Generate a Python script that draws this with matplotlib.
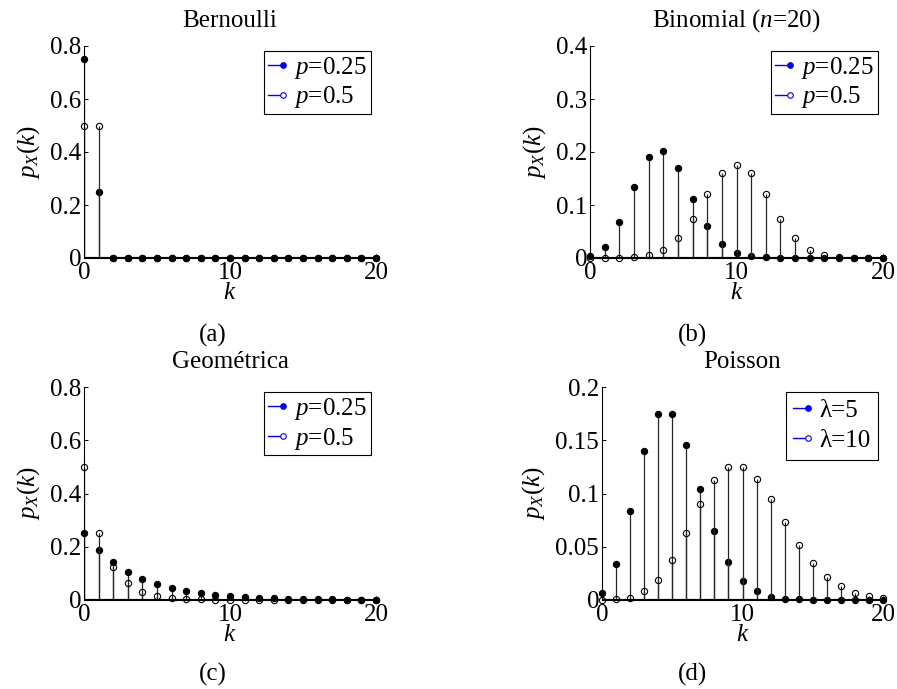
import matplotlib
matplotlib.use("Agg")
import matplotlib.pyplot as plt
from matplotlib.legend_handler import HandlerBase
from matplotlib.lines import Line2D
from matplotlib.ticker import FuncFormatter

plt.rcParams["font.family"] = ["Liberation Serif", "DejaVu Serif"]
plt.rcParams["mathtext.fontset"] = "custom"
plt.rcParams["mathtext.rm"] = "Liberation Serif"
plt.rcParams["mathtext.it"] = "Liberation Serif:italic"
plt.rcParams["font.size"] = 18

K = list(range(21))

# Bernoulli
bern_025 = [0.75, 0.25] + [0.0] * 19
bern_05 = [0.5, 0.5] + [0.0] * 19

# Binomial, n=20
binom_025 = [0.003, 0.021, 0.067, 0.134, 0.190, 0.202, 0.169, 0.112, 0.061, 0.027,
             0.010, 0.003, 0.001, 0.0002, 0.0, 0.0, 0.0, 0.0, 0.0, 0.0, 0.0]
binom_05 = [0.0, 0.0, 0.0002, 0.001, 0.005, 0.015, 0.037, 0.074, 0.120, 0.160,
            0.176, 0.160, 0.120, 0.074, 0.037, 0.015, 0.005, 0.001, 0.0002, 0.0, 0.0]

# Geometrica
geom_025 = [0.25, 0.188, 0.141, 0.105, 0.079, 0.059, 0.044, 0.033, 0.025, 0.019,
            0.014, 0.011, 0.008, 0.006, 0.004, 0.003, 0.003, 0.002, 0.001, 0.001, 0.001]
geom_05 = [0.5, 0.25, 0.125, 0.0625, 0.031, 0.016, 0.008, 0.004, 0.002, 0.001,
           0.0, 0.0, 0.0, 0.0, 0.0, 0.0, 0.0, 0.0, 0.0, 0.0, 0.0]

# Poisson
pois_5 = [0.007, 0.034, 0.084, 0.140, 0.175, 0.175, 0.146, 0.104, 0.065, 0.036,
          0.018, 0.008, 0.003, 0.001, 0.0005, 0.0002, 0.0, 0.0, 0.0, 0.0, 0.0]
pois_10 = [0.0, 0.0005, 0.002, 0.008, 0.019, 0.038, 0.063, 0.090, 0.113, 0.125,
           0.125, 0.114, 0.095, 0.073, 0.052, 0.035, 0.022, 0.013, 0.007, 0.004, 0.002]

PANELS = [
    ("Bernoulli", bern_025, bern_05, ["$p$=0.25", "$p$=0.5"], 0.8, [0, 0.2, 0.4, 0.6, 0.8], "(a)"),
    ("Binomial ($n$=20)", binom_025, binom_05, ["$p$=0.25", "$p$=0.5"], 0.4, [0, 0.1, 0.2, 0.3, 0.4], "(b)"),
    ("Geométrica", geom_025, geom_05, ["$p$=0.25", "$p$=0.5"], 0.8, [0, 0.2, 0.4, 0.6, 0.8], "(c)"),
    ("Poisson", pois_5, pois_10, ["λ=5", "λ=10"], 0.2, [0, 0.05, 0.1, 0.15, 0.2], "(d)"),
]

W, H = 897, 689
# axes boxes in pixels: left, top, right, bottom
BOXES = [(84, 46, 376, 258), (590, 46, 883, 258), (84, 387, 376, 600), (602, 387, 883, 600)]
CAPS = [(213, 335), (692, 335), (213, 674), (692, 674)]


class EndMarker(HandlerBase):
    # matlab-style legend entry: short line with the marker at its right end
    def create_artists(self, legend, orig, xdescent, ydescent, width, height, fontsize, trans):
        y = height / 2 - ydescent
        line = Line2D([-xdescent, width - xdescent], [y, y], color=orig.get_color(), lw=1)
        mk = Line2D([width - xdescent], [y], ls="none", marker="o", ms=4,
                    mfc=orig.get_markerfacecolor(), mec=orig.get_color(), mew=0.8)
        line.set_transform(trans)
        mk.set_transform(trans)
        return [line, mk]


fig = plt.figure(figsize=(W / 100, H / 100), dpi=100)

for (title, s1, s2, labels, ytop, yticks, cap), (l, t, r, b), (cx, cy) in zip(PANELS, BOXES, CAPS):
    ax = fig.add_axes([l / W, 1 - b / H, (r - l) / W, (b - t) / H])
    for vals, face in ((s1, "k"), (s2, "none")):
        mk, st, base = ax.stem(K, vals, basefmt="k-")
        st.set_color("0.15")
        st.set_linewidth(0.9)
        mk.set_marker("o")
        mk.set_markersize(4.5)
        mk.set_markerfacecolor(face)
        mk.set_markeredgecolor("k")
        mk.set_markeredgewidth(0.8)
        mk.set_linestyle("none")
        mk.set_clip_on(False)
        base.set_linewidth(1.5)
        base.set_color("k")
    ax.set_xlim(0, 20)
    ax.set_ylim(0, ytop)
    ax.set_xticks([0, 10, 20])
    ax.set_yticks(yticks)
    ax.yaxis.set_major_formatter(FuncFormatter(lambda v, p: "%g" % v))
    ax.spines["top"].set_visible(False)
    ax.spines["right"].set_visible(False)
    ax.spines["left"].set_linewidth(0.8)
    ax.spines["bottom"].set_linewidth(0.8)
    ax.tick_params(direction="in", length=3, width=0.7)
    ax.tick_params(axis="x", pad=3)
    ax.tick_params(axis="y", pad=2)
    ax.set_xlabel("$k$", labelpad=-1.5)
    ax.set_ylabel("$p_X(k)$", labelpad=6)
    ax.set_title(title, pad=14, fontsize=18)

    # the lambda rows sit a little looser in the reference
    loose = labels[0].startswith("λ")
    handles = [
        Line2D([], [], color="blue", mfc="blue"),
        Line2D([], [], color="blue", mfc="white"),
    ]
    leg = ax.legend(handles, labels, loc="upper right", handler_map={Line2D: EndMarker()},
                    handlelength=0.6, handletextpad=0.45,
                    borderpad=0.3 if loose else 0.15, labelspacing=0.3 if loose else 0.15,
                    borderaxespad=0.2, fancybox=False, framealpha=1, fontsize=18)
    leg.get_frame().set_edgecolor("k")
    leg.get_frame().set_linewidth(0.8)

    fig.text(cx / W, 1 - cy / H, cap, ha="center", va="center", fontsize=18)

fig.savefig("out.png", dpi=100)
